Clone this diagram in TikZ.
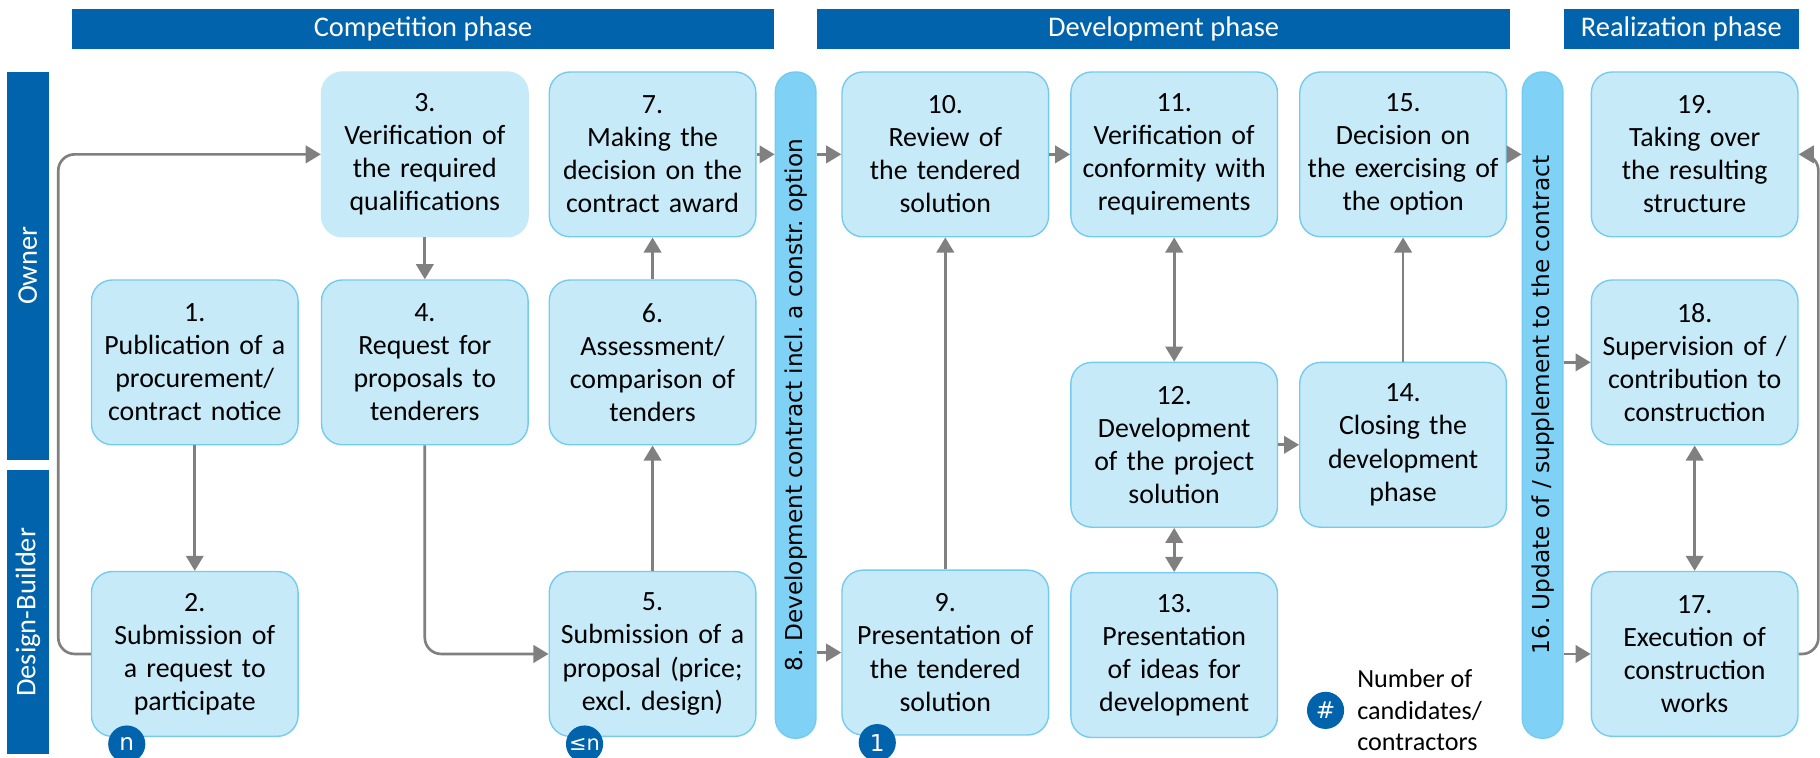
\documentclass[tikz,border=0pt]{standalone}
\usepackage{fontspec}
\setmainfont{Carlito}
\newfontfamily\barfont{DejaVu Sans}
\usetikzlibrary{arrows.meta, positioning}
\frenchspacing

\definecolor{phaseblue}{RGB}{0,99,172}
\definecolor{taskfill}{RGB}{199,234,248}
\definecolor{taskline}{RGB}{116,203,239}
\definecolor{barfill}{RGB}{127,210,245}
\definecolor{arrowgray}{RGB}{128,128,128}

\begin{document}
\begin{tikzpicture}[
    x=1pt, y=-1pt,
    task/.style={rectangle, rounded corners=18pt, minimum width=178pt, minimum height=142pt, text width=174pt, inner sep=0pt, align=center, draw=taskline, line width=1.2pt, fill=taskfill, font=\fontsize{24}{28.5}\selectfont},
    phase/.style={rectangle, minimum height=34pt, fill=phaseblue, text=white, font=\fontsize{24.5}{26}\selectfont},
    lane/.style={rectangle, rotate=90, minimum height=36pt, fill=phaseblue, text=white, font=\fontsize{24.5}{26}\selectfont},
    contract/.style={rectangle, rotate=90, rounded corners=17pt, minimum width=574pt, minimum height=35pt, draw=taskline, line width=1.2pt, fill=barfill, font=\barfont\fontsize{20}{24}\selectfont},
    badge/.style={circle, minimum size=32pt, inner sep=0pt, fill=phaseblue, text=white, font=\barfont\fontsize{20}{22}\selectfont},
    arrow/.style={line width=2.3pt, draw=arrowgray, -{Triangle[length=13pt,width=15pt]}},
    dblarrow/.style={arrow, {Triangle[length=13pt,width=15pt]}-{Triangle[length=13pt,width=15pt]}}
]
\useasboundingbox (0,0) rectangle (1568,653);

% Phases and lanes
\node[phase, minimum width=605pt] (compphase) at (364.5,25) {Competition phase};
\node[phase, minimum width=597pt] (devphase) at (1002.5,25) {Development phase};
\node[phase, minimum width=203pt] (realphase) at (1448.5,25) {Realization phase};
\node[lane, minimum width=334pt] (owner) at (24,229) {Owner};
\node[lane, minimum width=245pt] (builder) at (24,527.5) {Design-Builder};

% Competition phase
\node[task, draw=taskfill] (t3) at (366,133) {3.\\Verification of\\the required\\qualifications};
\node[task, below=36pt of t3] (t4) {4.\\Request for\\proposals to\\tenderers};
\node[task, left=19pt of t4] (t1) {1.\\Publication of a\\procurement/\\contract notice};
\node[task, below=108pt of t1] (t2) {2.\\Submission of\\a request to\\participate};
\node[task, right=17pt of t3] (t7) {7.\\Making the\\decision on the\\contract award};
\node[task, below=36pt of t7] (t6) {6.\\Assessment/\\comparison of\\tenders};
\node[task, below=108pt of t6] (t5) {5.\\Submission of a\\proposal (price;\\excl. design)};

% Contracts
\node[contract] (c8) at (685.5,349) {8. Development contract incl. a constr. option};
\node[contract] (c16) at (1329,349) {16. Update of / supplement to the contract};

% Development phase
\node[task, right=73pt of t7] (t10) {10.\\Review of\\the tendered\\solution};
\node[task, below=286pt of t10] (t9) {9.\\Presentation of\\the tendered\\solution};
\node[task, right=18pt of t10] (t11) {11.\\Verification of\\conformity with\\requirements};
\node[task, below=107pt of t11] (t12) {12.\\Development\\of the project\\solution};
\node[task, below=38pt of t12] (t13) {13.\\Presentation\\of ideas for\\development};
\node[task, right=18pt of t11] (t15) {15.\\Decision on\\the exercising of\\the option};
\node[task, below=107pt of t15] (t14) {14.\\Closing the\\development\\phase};

% Realization phase
\node[task, right=72pt of t15] (t19) {19.\\Taking over\\the resulting\\structure};
\node[task, below=36pt of t19] (t18) {18.\\Supervision of /\\contribution to\\construction};
\node[task, below=108pt of t18] (t17) {17.\\Execution of\\construction\\works};

% Number of candidates
\node[badge] (b2) at ([shift={(31pt,-6pt)}]t2.south west) {n};
\node[badge] (b5) at ([shift={(31pt,-6pt)}]t5.south west) {\fontsize{18}{20}\selectfont≤n};
\node[badge] (b9) at ([shift={(31pt,-6pt)}]t9.south west) {1};
\node[badge] (legendmark) at (1142,612) {\#};
\node[right=11pt of legendmark, inner sep=0pt, align=left, font=\fontsize{22.5}{27}\selectfont] (legendtext) {Number of\\candidates/\\contractors};

% Arrows
\draw[arrow] (t1) -- (t2);
\draw[arrow, rounded corners=14pt] (t2.west) -- ++(-28pt,0pt) |- (t3.west);
\draw[arrow] (t3) -- (t4);
\draw[arrow, rounded corners=14pt] (t4.south) |- (t5.west);
\draw[arrow] (t5) -- (t6);
\draw[arrow] (t6) -- (t7);
\draw[arrow] (t7.east) -- (t7.east -| c8.north);
\draw[arrow] (c8.south |- t10.west) -- (t10.west);
\draw[arrow] (c8.south |- t9.west) -- (t9.west);
\draw[arrow] (t9) -- (t10);
\draw[arrow] (t10) -- (t11);
\draw[dblarrow] (t11) -- (t12);
\draw[dblarrow] (t12) -- (t13);
\draw[arrow] (t12) -- (t14);
\draw[arrow] (t14) -- (t15);
\draw[arrow] (t15.east) -- (t15.east -| c16.north);
\draw[arrow] (c16.south |- t18.west) -- (t18.west);
\draw[arrow] (c16.south |- t17.west) -- (t17.west);
\draw[dblarrow] (t18) -- (t17);
\draw[arrow, rounded corners=14pt] (t17.east) -- ++(17pt,0pt) |- (t19.east);

\end{tikzpicture}
\end{document}
